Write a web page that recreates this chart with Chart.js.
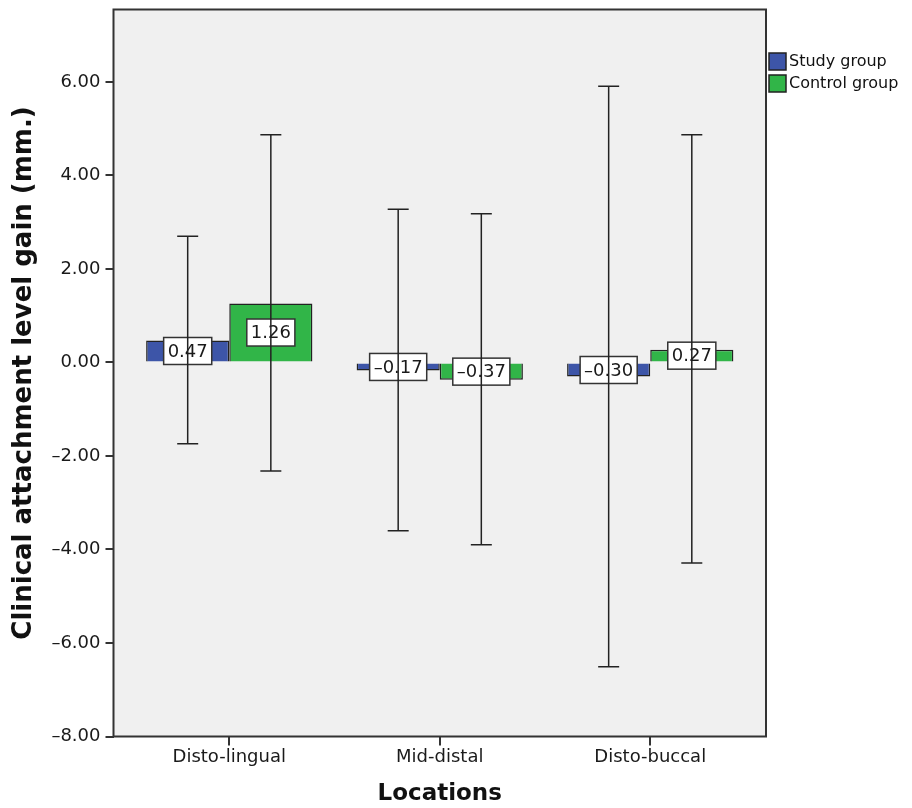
<!DOCTYPE html>
<html>
<head>
<meta charset="utf-8">
<script src="https://cdn.jsdelivr.net/npm/chart.js@4.4.1/dist/chart.umd.min.js"></script>
<style>
  body { margin: 0; background: #fff; }
</style>
</head>
<body>
<canvas id="cal-chart" width="912" height="808"></canvas>
<script>
const categories = ["Disto-lingual", "Mid-distal", "Disto-buccal"];
const studyMean = [0.47, -0.17, -0.30];
const studyUpper = [2.70, 3.28, 5.91];
const studyLower = [-1.74, -3.60, -6.51];
const controlMean = [1.26, -0.37, 0.27];
const controlUpper = [4.87, 3.18, 4.87];
const controlLower = [-2.32, -3.90, -4.29];
const yTicks = [-8, -6, -4, -2, 0, 2, 4, 6];

const FONT = "'DejaVu Sans', Verdana, sans-serif";

// SPSS style: dash for negatives
function fmt(v) {
  return (v < 0 ? '\u2013' : '') + Math.abs(v).toFixed(2);
}

// background of the plot area + frame
const plotFrame = {
  id: 'plotFrame',
  beforeDatasetsDraw(chart) {
    const {ctx, chartArea: a} = chart;
    ctx.save();
    ctx.fillStyle = '#f0f0f0';
    ctx.fillRect(a.left, a.top, a.right - a.left, a.bottom - a.top);
    ctx.restore();
  },
  afterDraw(chart) {
    const {ctx, chartArea: a} = chart;
    ctx.save();
    ctx.strokeStyle = '#333';
    ctx.lineWidth = 2;
    ctx.strokeRect(a.left, a.top, a.right - a.left, a.bottom - a.top);
    ctx.restore();
  }
};

// value boxes, then error bars on top
const barExtras = {
  id: 'barExtras',
  afterDatasetsDraw(chart) {
    const {ctx, scales: {y}} = chart;
    ctx.save();
    ctx.font = '18px ' + FONT;
    ctx.textAlign = 'center';
    ctx.textBaseline = 'middle';
    chart.data.datasets.forEach((ds, i) => {
      chart.getDatasetMeta(i).data.forEach((bar, j) => {
        const txt = fmt(ds.data[j].y);
        const w = ctx.measureText(txt).width + 8;
        const h = 27;
        const cy = (bar.y + bar.base) / 2;
        ctx.fillStyle = '#fff';
        ctx.fillRect(bar.x - w / 2, cy - h / 2, w, h);
        ctx.strokeStyle = '#333';
        ctx.lineWidth = 1.5;
        ctx.strokeRect(bar.x - w / 2, cy - h / 2, w, h);
        ctx.fillStyle = '#1a1a1a';
        ctx.fillText(txt, bar.x, cy + 1);
      });
    });
    chart.data.datasets.forEach((ds, i) => {
      chart.getDatasetMeta(i).data.forEach((bar, j) => {
        const top = y.getPixelForValue(ds.upper[j]);
        const bot = y.getPixelForValue(ds.lower[j]);
        ctx.strokeStyle = '#222';
        ctx.lineWidth = 1.5;
        ctx.beginPath();
        ctx.moveTo(bar.x, top);
        ctx.lineTo(bar.x, bot);
        ctx.moveTo(bar.x - 10.5, top);
        ctx.lineTo(bar.x + 10.5, top);
        ctx.moveTo(bar.x - 10.5, bot);
        ctx.lineTo(bar.x + 10.5, bot);
        ctx.stroke();
      });
    });
    ctx.restore();
  }
};

const sideLegend = {
  id: 'sideLegend',
  afterDraw(chart) {
    const {ctx, chartArea: a} = chart;
    ctx.save();
    ctx.font = '16px ' + FONT;
    ctx.textBaseline = 'middle';
    chart.data.datasets.forEach((ds, i) => {
      const x = a.right + 3;
      const yy = 53 + i * 22;
      ctx.fillStyle = ds.backgroundColor;
      ctx.fillRect(x, yy, 17, 17);
      ctx.strokeStyle = '#222';
      ctx.lineWidth = 1.5;
      ctx.strokeRect(x, yy, 17, 17);
      ctx.fillStyle = '#111';
      ctx.fillText(ds.label, x + 20, yy + 9);
    });
    ctx.restore();
  }
};

function initChart() {
  const ctx = document.getElementById('cal-chart');
  const data = {
    datasets: [{
      label: 'Study group',
      data: studyMean.map((v, i) => ({x: i, y: v})),
      upper: studyUpper,
      lower: studyLower,
      backgroundColor: '#3d55a8',
      borderColor: '#222',
      borderWidth: 1.5
    }, {
      label: 'Control group',
      data: controlMean.map((v, i) => ({x: i, y: v})),
      upper: controlUpper,
      lower: controlLower,
      backgroundColor: '#31b548',
      borderColor: '#222',
      borderWidth: 1.5
    }]
  };
  const config = {
    type: 'bar',
    data: data,
    options: {
      responsive: false,
      animation: false,
      categoryPercentage: 0.79,
      barPercentage: 1,
      layout: {
        padding: { top: 9.5, right: 146 }
      },
      plugins: {
        legend: { display: false },
        tooltip: { enabled: false }
      },
      scales: {
        x: {
          type: 'linear',
          min: -0.55,
          max: 2.55,
          offset: false,
          afterFit: (s) => {
            s.height = 71.5;
            s.paddingLeft = 0;
            s.paddingRight = 0;
          },
          afterBuildTicks: (s) => {
            s.ticks = categories.map((c, i) => ({value: i}));
          },
          ticks: {
            font: { size: 18, family: FONT },
            color: '#1a1a1a',
            padding: 1,
            maxRotation: 0,
            callback: (v) => categories[v]
          },
          grid: {
            offset: false,
            drawOnChartArea: false,
            tickLength: 9,
            lineWidth: 2,
            color: '#333'
          },
          border: { display: false },
          title: {
            display: true,
            text: 'Locations',
            font: { size: 23, weight: 'bold', family: FONT },
            color: '#111',
            padding: { top: 0, bottom: 0 }
          }
        },
        y: {
          min: -8,
          max: 7.55,
          afterFit: (s) => {
            s.width = 113.5;
            s.paddingTop = 0;
            s.paddingBottom = 0;
          },
          afterBuildTicks: (s) => {
            s.ticks = yTicks.map(v => ({value: v}));
          },
          ticks: {
            font: { size: 18, family: FONT },
            color: '#1a1a1a',
            padding: 5,
            callback: (v) => fmt(v)
          },
          grid: {
            drawOnChartArea: false,
            tickLength: 8,
            lineWidth: 2,
            color: '#333'
          },
          border: { display: false },
          title: {
            display: true,
            text: 'Clinical attachment level gain (mm.)',
            font: { size: 26, weight: 'bold', family: FONT },
            color: '#111',
            padding: { top: 9, bottom: 0 }
          }
        }
      }
    },
    plugins: [plotFrame, barExtras, sideLegend]
  };
  return new Chart(ctx, config);
}

const barChart = initChart();
</script>
</body>
</html>
